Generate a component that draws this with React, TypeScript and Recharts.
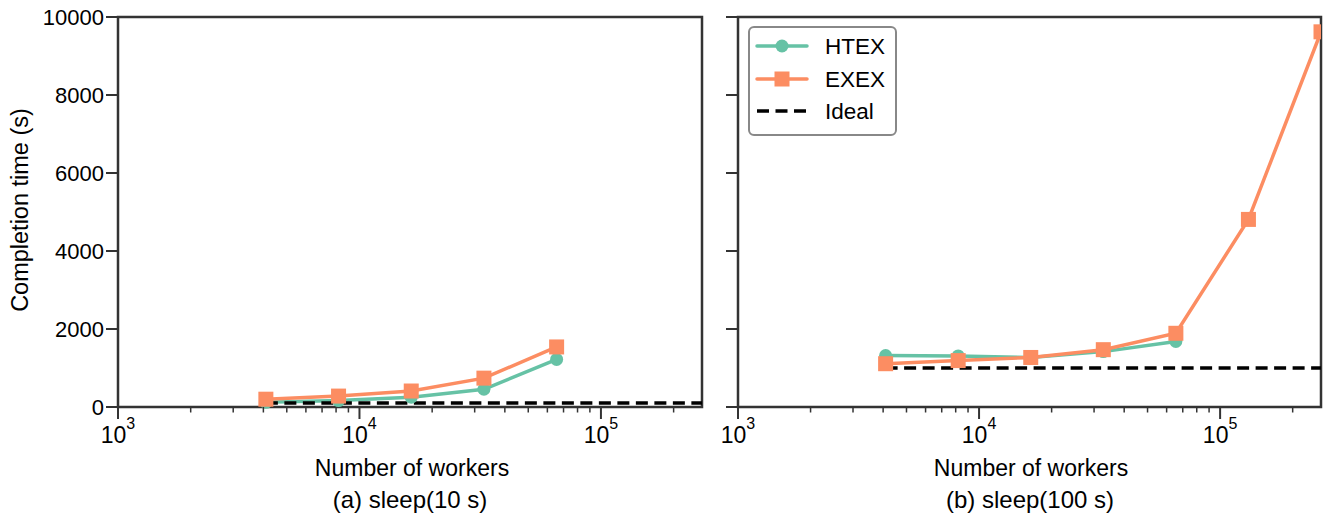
import React from 'react';
import { LineChart, Line, XAxis, YAxis, ReferenceArea } from 'recharts';

// ---- data ----
const workersA = [4096, 8192, 16384, 32768, 65536];
const htexA = [120, 165, 250, 455, 1220];
const exexA = [200, 280, 410, 740, 1540];
const idealWorkers = [4096, 262144];
const idealA = [100, 100];

const workersB = [4096, 8192, 16384, 32768, 65536];
const htexB = [1320, 1310, 1270, 1420, 1680];
const workersBExex = [4096, 8192, 16384, 32768, 65536, 131072, 262144];
const exexB = [1110, 1190, 1270, 1470, 1890, 4810, 9620];
const idealB = [1000, 1000];

const yTicks = [0, 2000, 4000, 6000, 8000, 10000];
const xMajor = [1000, 10000, 100000];
const xDomain: [number, number] = [1000, 262144];
const yDomain: [number, number] = [0, 10000];
const xTicks = xMajor
  .flatMap((m) => [1, 2, 3, 4, 5, 6, 7, 8, 9].map((k) => k * m))
  .filter((v) => v <= xDomain[1]);

const HTEX_COLOR = '#66c2a5';
const EXEX_COLOR = '#fc8d62';
const AXIS_COLOR = '#333333';
const FONT = '"Liberation Sans", Arial, Helvetica, sans-serif';

const pts = (xs: number[], ys: number[]) => xs.map((x, i) => ({ x, y: ys[i] }));

const XTick = (props: any) => {
  const { x, y, payload } = props;
  const v = payload.value;
  const major = xMajor.includes(v);
  const exp = Math.round(Math.log10(v));
  return (
    <g>
      <line x1={x} x2={x} y1={y} y2={y + (major ? 12 : 5.5)} stroke={AXIS_COLOR} strokeWidth={major ? 2 : 1.5} />
      {major && (
        <text x={x} y={y + 36} textAnchor="middle" fontSize={23} fill="#000" fontFamily={FONT}>
          <tspan>10</tspan>
          <tspan dy={-14} fontSize={16}>{exp}</tspan>
        </text>
      )}
    </g>
  );
};

const makeYTick = (showLabel: boolean) => (props: any) => {
  const { x, y, payload } = props;
  return (
    <g>
      <line x1={x - 12} x2={x} y1={y} y2={y} stroke={AXIS_COLOR} strokeWidth={2} />
      {showLabel && (
        <text x={x - 14} y={y} dy="0.36em" textAnchor="end" fontSize={22} fill="#000" fontFamily={FONT}>
          {payload.value}
        </text>
      )}
    </g>
  );
};

const squareDot = (p: any) => (
  <rect key={`sq-${p.index}`} x={p.cx - 7.5} y={p.cy - 7.5} width={15} height={15} fill={EXEX_COLOR} />
);

type PanelProps = {
  width: number;
  height: number;
  margin: { top: number; right: number; bottom: number; left: number };
  yAxisWidth: number;
  showYLabels: boolean;
  htex: { x: number; y: number }[];
  exex: { x: number; y: number }[];
  ideal: { x: number; y: number }[];
};

const Panel = ({ width, height, margin, yAxisWidth, showYLabels, htex, exex, ideal }: PanelProps) => (
  <LineChart width={width} height={height} margin={margin}>
    <XAxis
      dataKey="x"
      type="number"
      scale="log"
      domain={xDomain}
      allowDataOverflow
      ticks={xTicks}
      interval={0}
      tick={<XTick />}
      tickLine={false}
      axisLine={false}
      tickSize={0}
      tickMargin={0}
      height={30}
    />
    <YAxis
      type="number"
      domain={yDomain}
      ticks={yTicks}
      interval={0}
      tick={makeYTick(showYLabels)}
      tickLine={false}
      axisLine={false}
      tickSize={0}
      tickMargin={0}
      width={yAxisWidth}
    />
    <Line
      data={htex}
      dataKey="y"
      type="linear"
      stroke={HTEX_COLOR}
      strokeWidth={3.5}
      dot={{ r: 6.5, fill: HTEX_COLOR, stroke: 'none', strokeWidth: 0 }}
      isAnimationActive={false}
    />
    <Line
      data={exex}
      dataKey="y"
      type="linear"
      stroke={EXEX_COLOR}
      strokeWidth={3.5}
      dot={squareDot}
      isAnimationActive={false}
    />
    <Line
      data={ideal}
      dataKey="y"
      type="linear"
      stroke="#000"
      strokeWidth={3.5}
      strokeDasharray="12 6.5"
      dot={false}
      isAnimationActive={false}
    />
    <ReferenceArea
      x1={xDomain[0]}
      x2={xDomain[1]}
      y1={yDomain[0]}
      y2={yDomain[1]}
      fill="none"
      fillOpacity={0}
      stroke={AXIS_COLOR}
      strokeWidth={2.5}
      ifOverflow="visible"
    />
  </LineChart>
);

const LegendBox = () => (
  <svg width={160} height={120} style={{ position: 'absolute', left: 745, top: 23 }}>
    <g transform="translate(-745,-23)">
      <rect x={749} y={27} width={147} height={108} rx={5} ry={5} fill="#fff" stroke="#888" strokeWidth={2} />
      <line x1={757} x2={807} y1={46} y2={46} stroke={HTEX_COLOR} strokeWidth={3.5} strokeLinecap="round" />
      <circle cx={782} cy={46} r={6.5} fill={HTEX_COLOR} />
      <text x={825} y={46} dy="0.36em" fontSize={22.5} fontFamily={FONT} fill="#000">HTEX</text>
      <line x1={757} x2={807} y1={79} y2={79} stroke={EXEX_COLOR} strokeWidth={3.5} strokeLinecap="round" />
      <rect x={774.5} y={71.5} width={15} height={15} fill={EXEX_COLOR} />
      <text x={825} y={79} dy="0.36em" fontSize={22.5} fontFamily={FONT} fill="#000">EXEX</text>
      <line x1={757} x2={807} y1={111} y2={111} stroke="#000" strokeWidth={3.5} strokeDasharray="12 6.5" />
      <text x={825} y={111} dy="0.36em" fontSize={22.5} fontFamily={FONT} fill="#000">Ideal</text>
    </g>
  </svg>
);

const textStyle: React.CSSProperties = {
  position: 'absolute',
  fontFamily: FONT,
  fontSize: 23,
  color: '#000',
  whiteSpace: 'nowrap',
  lineHeight: 1,
};

export default function App() {
  return (
    <div style={{ position: 'absolute', left: 0, top: 0, width: 1323, height: 518, background: '#fff', fontFamily: FONT, overflow: 'hidden' }}>
      <div style={{ position: 'absolute', left: 0, top: 0 }}>
        <Panel
          width={720}
          height={518}
          margin={{ top: 17, right: 18, bottom: 81, left: 58 }}
          yAxisWidth={60}
          showYLabels={true}
          htex={pts(workersA, htexA)}
          exex={pts(workersA, exexA)}
          ideal={pts(idealWorkers, idealA)}
        />
      </div>
      <div style={{ position: 'absolute', left: 720, top: 0 }}>
        <Panel
          width={603}
          height={518}
          margin={{ top: 17, right: 2, bottom: 81, left: 8 }}
          yAxisWidth={10}
          showYLabels={false}
          htex={pts(workersB, htexB)}
          exex={pts(workersBExex, exexB)}
          ideal={pts(idealWorkers, idealB)}
        />
      </div>
      <LegendBox />
      <div style={{ ...textStyle, fontSize: 23.5, left: 21, top: 210, transform: 'translate(-50%, -50%) rotate(-90deg)' }}>
        Completion time (s)
      </div>
      <div style={{ ...textStyle, left: 412, top: 457, transform: 'translateX(-50%)' }}>Number of workers</div>
      <div style={{ ...textStyle, fontSize: 24, left: 410, top: 488, transform: 'translateX(-50%)' }}>(a) sleep(10 s)</div>
      <div style={{ ...textStyle, left: 1031, top: 457, transform: 'translateX(-50%)' }}>Number of workers</div>
      <div style={{ ...textStyle, fontSize: 24, left: 1030, top: 488, transform: 'translateX(-50%)' }}>(b) sleep(100 s)</div>
    </div>
  );
}
